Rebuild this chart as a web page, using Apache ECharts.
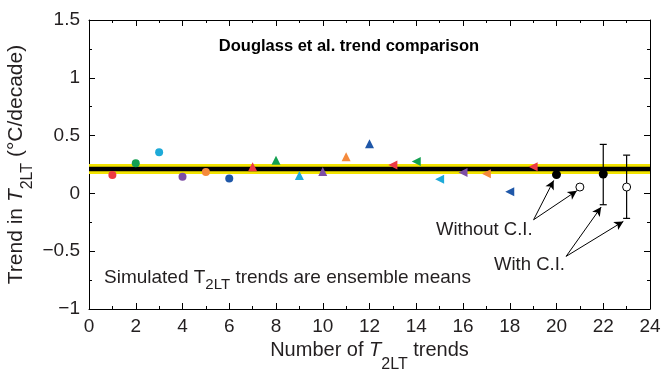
<!DOCTYPE html>
<html>
<head>
<meta charset="utf-8">
<script src="https://cdn.jsdelivr.net/npm/echarts@6/dist/echarts.min.js"></script>
<style>html,body{margin:0;padding:0;background:#fff}#c{width:667px;height:381px}</style>
</head>
<body>
<div id="c"></div>
<script>
// ---- data ----
const modelX = [1,2,3,4,5,6,7,8,9,10,11,12,13,14,15,16,17,18,19];
const modelTrend = [0.16,0.26,0.355,0.145,0.185,0.128,0.23,0.287,0.154,0.19,0.316,0.43,0.245,0.276,0.122,0.18,0.17,0.015,0.23];
const modelColor = ['#ee3a43','#13a050','#1eaad8','#7d4ea6','#f58a3c','#1f57a8','#ee3a43','#13a050','#1eaad8','#7d4ea6','#f58a3c','#1f57a8','#ee3a43','#13a050','#1eaad8','#7d4ea6','#f58a3c','#1f57a8','#ee3a43'];
const modelShape = ['circle','circle','circle','circle','circle','circle','up','up','up','up','up','up','left','left','left','left','left','left','left'];
const obsTrend = 0.21;
const meanFilledX = [20,22];
const meanFilledY = [0.163,0.168];
const meanOpenX = [21,23];
const meanOpenY = [0.055,0.055];
const ciX = [22,23];
const ciLow = [-0.098,-0.216];
const ciHigh = [0.424,0.331];
const xTicks = [0,2,4,6,8,10,12,14,16,18,20,22,24];
const yTicks = [-1,-0.5,0,0.5,1,1.5];
// annotation arrows (data coords): [startX,startY,endX,endY]
const arrowsWithout = [[19.02,-0.228,19.88,0.112],[19.02,-0.228,20.87,0.023]];
const arrowsWith = [[20.41,-0.545,21.91,-0.118],[20.41,-0.545,22.86,-0.242]];

const FONT = '"Liberation Sans", Arial, Helvetica, sans-serif';
const TXT = '#231f20';

const chart = echarts.init(document.getElementById('c'), null, {renderer:'canvas'});

const modelData = modelX.map((x,i)=>{
  const s = modelShape[i];
  return {
    value:[x, modelTrend[i]],
    symbol: s==='circle' ? 'circle' : 'triangle',
    symbolSize: s==='circle' ? 8 : 9,
    symbolRotate: s==='left' ? 90 : 0,
    itemStyle:{color:modelColor[i], opacity:1}
  };
});

const axisCommon = {
  type:'value',
  axisLine:{show:true, onZero:false, lineStyle:{color:'#000', width:1}},
  axisTick:{show:true, inside:true, length:6, lineStyle:{color:'#000'}},
  minorTick:{show:true, splitNumber:2, length:3, lineStyle:{color:'#000'}},
  splitLine:{show:false},
  minorSplitLine:{show:false}
};

const arrowLines = arrowsWithout.concat(arrowsWith).map(a=>[
  {coord:[a[0],a[1]], symbol:'none'},
  {coord:[a[2],a[3]], symbol:'arrow'}
]);

const nameRich = {
  a:{fontSize:20, color:TXT, fontFamily:FONT},
  i:{fontSize:20, color:TXT, fontStyle:'italic', fontFamily:FONT},
  s:{fontSize:16, color:TXT, fontFamily:FONT, padding:[30,0,0,0]}
};
const nameRichY = {
  a:{fontSize:21, color:TXT, fontFamily:FONT},
  i:{fontSize:21, color:TXT, fontStyle:'italic', fontFamily:FONT},
  s:{fontSize:16, color:TXT, fontFamily:FONT, padding:[24,0,0,0]}
};

const option = {
  animation:false,
  backgroundColor:'#fff',
  textStyle:{fontFamily:FONT},
  grid:{left:89, right:17, top:20, bottom:72, containLabel:false, outerBoundsMode:'none'},
  xAxis:[
    Object.assign({}, axisCommon, {
      min:0, max:24, interval:2, position:'bottom',
      axisLabel:{fontSize:19, color:TXT, margin:8, fontFamily:FONT,
        formatter:v=> xTicks.includes(v) ? String(v) : ''},
      name:'{a|Number of }{i|T}{s|2LT}{a| trends}',
      nameLocation:'middle', nameGap:18, nameMoveOverlap:false,
      nameTextStyle:{rich:nameRich}
    }),
    Object.assign({}, axisCommon, {
      min:0, max:24, interval:2, position:'top',
      axisLabel:{show:false}
    })
  ],
  yAxis:[
    Object.assign({}, axisCommon, {
      min:-1, max:1.5, interval:0.5, position:'left',
      axisLabel:{fontSize:19, color:TXT, margin:9, fontFamily:FONT,
        formatter:v=> yTicks.some(t=>Math.abs(t-v)<1e-9) ? String(v).replace('-','\u2212') : ''},
      name:'{a|Trend in }{i|T}{s|2LT}{a| (°C/decade)}',
      nameLocation:'middle', nameGap:53, nameMoveOverlap:false,
      nameTextStyle:{rich:nameRichY}
    }),
    Object.assign({}, axisCommon, {
      min:-1, max:1.5, interval:0.5, position:'right',
      axisLabel:{show:false}
    })
  ],
  graphic:[
    {type:'text', x:349, y:46, style:{text:'Douglass et al. trend comparison', fill:'#000', font:'bold 16.5px '+FONT, textAlign:'center', textVerticalAlign:'middle'}},
    {type:'text', x:104, y:278, style:{
      text:'{a|Simulated T}{s|2LT}{a| trends are ensemble means}',
      textVerticalAlign:'middle',
      rich:{
        a:{fontSize:19, fill:TXT, fontFamily:FONT},
        s:{fontSize:15, fill:TXT, fontFamily:FONT, padding:[14,0,0,0]}
      }}},
    {type:'text', x:436, y:230, style:{text:'Without C.I.', font:'18.5px '+FONT, fill:TXT, textVerticalAlign:'middle'}},
    {type:'text', x:494, y:265, style:{text:'With C.I.', font:'18.5px '+FONT, fill:TXT, textVerticalAlign:'middle'}}
  ],
  series:[
    {
      type:'line', data:[[0,obsTrend],[24,obsTrend]], symbol:'none', z:2,
      lineStyle:{color:'#f3e400', width:10}
    },
    {
      type:'scatter', data:modelData, z:2
    },
    {
      type:'line', data:[[0,obsTrend],[24,obsTrend]], symbol:'none', z:2,
      lineStyle:{color:'#000', width:4.5}
    },
    {
      type:'custom', z:4,
      data: ciX.map((x,i)=>[x, ciLow[i], ciHigh[i]]),
      renderItem:(params, api)=>{
        const x = api.value(0);
        const lo = api.coord([x, api.value(1)]);
        const hi = api.coord([x, api.value(2)]);
        const w = 3.5;
        const st = {stroke:'#000', lineWidth:1.2};
        return {type:'group', children:[
          {type:'line', shape:{x1:lo[0], y1:lo[1], x2:hi[0], y2:hi[1]}, style:st},
          {type:'line', shape:{x1:lo[0]-w, y1:lo[1], x2:lo[0]+w, y2:lo[1]}, style:st},
          {type:'line', shape:{x1:hi[0]-w, y1:hi[1], x2:hi[0]+w, y2:hi[1]}, style:st}
        ]};
      }
    },
    {
      type:'scatter', z:5, symbol:'circle', symbolSize:9,
      data: meanFilledX.map((x,i)=>[x, meanFilledY[i]]),
      itemStyle:{color:'#000', opacity:1}
    },
    {
      type:'scatter', z:5, symbol:'circle', symbolSize:8,
      data: meanOpenX.map((x,i)=>[x, meanOpenY[i]]),
      itemStyle:{color:'#fff', borderColor:'#000', borderWidth:1, opacity:1}
    },
    {
      type:'scatter', z:6, data:[], silent:true,
      markLine:{
        silent:true, animation:false,
        symbol:['none','arrow'], symbolSize:[7,9],
        label:{show:false},
        lineStyle:{color:'#000', width:1, type:'solid'},
        emphasis:{disabled:true},
        data: arrowLines
      }
    }
  ]
};
chart.setOption(option);
</script>
</body>
</html>
